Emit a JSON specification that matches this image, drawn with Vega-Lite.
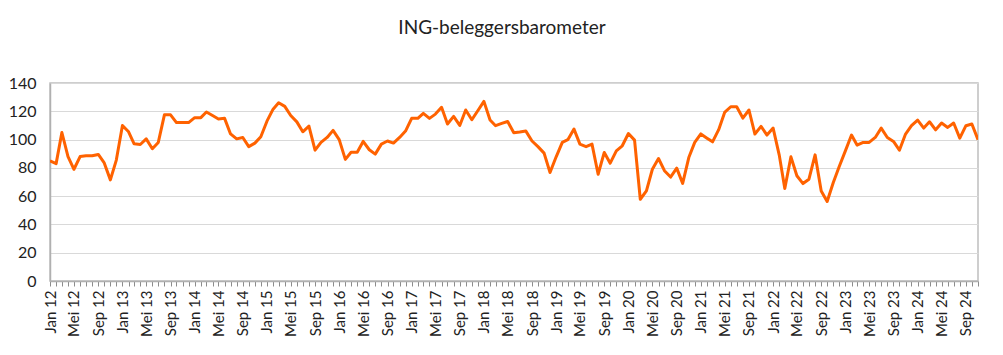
{
  "$schema": "https://vega.github.io/schema/vega-lite/v6.json",
  "autosize": "none",
  "width": 928,
  "height": 198,
  "padding": {"left": 50, "top": 83, "right": 25, "bottom": 74},
  "background": "white",
  "config": {
    "font": "Lato",
    "view": {"stroke": "#bfbfbf", "strokeWidth": 1.5}
  },
  "title": {
    "text": "ING-beleggersbarometer",
    "font": "Lato",
    "fontSize": 19,
    "fontWeight": "normal",
    "color": "#222222",
    "anchor": "middle",
    "frame": "group",
    "dx": -12,
    "baseline": "alphabetic",
    "offset": 22
  },
  "data": {
    "values": [
      {"date": "2012-01-01", "v": 85},
      {"date": "2012-02-01", "v": 83},
      {"date": "2012-03-01", "v": 105},
      {"date": "2012-04-01", "v": 88},
      {"date": "2012-05-01", "v": 79},
      {"date": "2012-06-01", "v": 88},
      {"date": "2012-07-01", "v": 88.5},
      {"date": "2012-08-01", "v": 88.5},
      {"date": "2012-09-01", "v": 89.5},
      {"date": "2012-10-01", "v": 83.5},
      {"date": "2012-11-01", "v": 71.5},
      {"date": "2012-12-01", "v": 85.5},
      {"date": "2013-01-01", "v": 110},
      {"date": "2013-02-01", "v": 105.5},
      {"date": "2013-03-01", "v": 97},
      {"date": "2013-04-01", "v": 96.5},
      {"date": "2013-05-01", "v": 100.5},
      {"date": "2013-06-01", "v": 93.5},
      {"date": "2013-07-01", "v": 98},
      {"date": "2013-08-01", "v": 117.5},
      {"date": "2013-09-01", "v": 117.5},
      {"date": "2013-10-01", "v": 112},
      {"date": "2013-11-01", "v": 112},
      {"date": "2013-12-01", "v": 112},
      {"date": "2014-01-01", "v": 115.5},
      {"date": "2014-02-01", "v": 115.5},
      {"date": "2014-03-01", "v": 119.5},
      {"date": "2014-04-01", "v": 117},
      {"date": "2014-05-01", "v": 114.5},
      {"date": "2014-06-01", "v": 115},
      {"date": "2014-07-01", "v": 104},
      {"date": "2014-08-01", "v": 100.5},
      {"date": "2014-09-01", "v": 101.5},
      {"date": "2014-10-01", "v": 95},
      {"date": "2014-11-01", "v": 97.5},
      {"date": "2014-12-01", "v": 102},
      {"date": "2015-01-01", "v": 113},
      {"date": "2015-02-01", "v": 121.5},
      {"date": "2015-03-01", "v": 126},
      {"date": "2015-04-01", "v": 123.5},
      {"date": "2015-05-01", "v": 117},
      {"date": "2015-06-01", "v": 112.5},
      {"date": "2015-07-01", "v": 105.5},
      {"date": "2015-08-01", "v": 109.5},
      {"date": "2015-09-01", "v": 92.5},
      {"date": "2015-10-01", "v": 98},
      {"date": "2015-11-01", "v": 101.5},
      {"date": "2015-12-01", "v": 106.5},
      {"date": "2016-01-01", "v": 100},
      {"date": "2016-02-01", "v": 86},
      {"date": "2016-03-01", "v": 91},
      {"date": "2016-04-01", "v": 91},
      {"date": "2016-05-01", "v": 98.7},
      {"date": "2016-06-01", "v": 92.8},
      {"date": "2016-07-01", "v": 89.7},
      {"date": "2016-08-01", "v": 96.8},
      {"date": "2016-09-01", "v": 99},
      {"date": "2016-10-01", "v": 97.5},
      {"date": "2016-11-01", "v": 101.5},
      {"date": "2016-12-01", "v": 106},
      {"date": "2017-01-01", "v": 115},
      {"date": "2017-02-01", "v": 115},
      {"date": "2017-03-01", "v": 118.5},
      {"date": "2017-04-01", "v": 115},
      {"date": "2017-05-01", "v": 118},
      {"date": "2017-06-01", "v": 122.8},
      {"date": "2017-07-01", "v": 111},
      {"date": "2017-08-01", "v": 116.4},
      {"date": "2017-09-01", "v": 110},
      {"date": "2017-10-01", "v": 120.9},
      {"date": "2017-11-01", "v": 114},
      {"date": "2017-12-01", "v": 120.4},
      {"date": "2018-01-01", "v": 127},
      {"date": "2018-02-01", "v": 113.8},
      {"date": "2018-03-01", "v": 109.8},
      {"date": "2018-04-01", "v": 111.4},
      {"date": "2018-05-01", "v": 112.8},
      {"date": "2018-06-01", "v": 104.8},
      {"date": "2018-07-01", "v": 105.3},
      {"date": "2018-08-01", "v": 106},
      {"date": "2018-09-01", "v": 99},
      {"date": "2018-10-01", "v": 95},
      {"date": "2018-11-01", "v": 90.4},
      {"date": "2018-12-01", "v": 76.7},
      {"date": "2019-01-01", "v": 87.8},
      {"date": "2019-02-01", "v": 98},
      {"date": "2019-03-01", "v": 99.9},
      {"date": "2019-04-01", "v": 107.4},
      {"date": "2019-05-01", "v": 96.8},
      {"date": "2019-06-01", "v": 95},
      {"date": "2019-07-01", "v": 96.8},
      {"date": "2019-08-01", "v": 75.5},
      {"date": "2019-09-01", "v": 90.9},
      {"date": "2019-10-01", "v": 83.3},
      {"date": "2019-11-01", "v": 92},
      {"date": "2019-12-01", "v": 95.6},
      {"date": "2020-01-01", "v": 104.3},
      {"date": "2020-02-01", "v": 99.6},
      {"date": "2020-03-01", "v": 57.8},
      {"date": "2020-04-01", "v": 63.7},
      {"date": "2020-05-01", "v": 79},
      {"date": "2020-06-01", "v": 86.6},
      {"date": "2020-07-01", "v": 78},
      {"date": "2020-08-01", "v": 73.5},
      {"date": "2020-09-01", "v": 79.8},
      {"date": "2020-10-01", "v": 69},
      {"date": "2020-11-01", "v": 87.3},
      {"date": "2020-12-01", "v": 98},
      {"date": "2021-01-01", "v": 104},
      {"date": "2021-02-01", "v": 101},
      {"date": "2021-03-01", "v": 98.4},
      {"date": "2021-04-01", "v": 107},
      {"date": "2021-05-01", "v": 119.2},
      {"date": "2021-06-01", "v": 123.2},
      {"date": "2021-07-01", "v": 123.2},
      {"date": "2021-08-01", "v": 115.2},
      {"date": "2021-09-01", "v": 120.9},
      {"date": "2021-10-01", "v": 103.9},
      {"date": "2021-11-01", "v": 109.3},
      {"date": "2021-12-01", "v": 103.2},
      {"date": "2022-01-01", "v": 108.1},
      {"date": "2022-02-01", "v": 89},
      {"date": "2022-03-01", "v": 65.4},
      {"date": "2022-04-01", "v": 87.8},
      {"date": "2022-05-01", "v": 74.4},
      {"date": "2022-06-01", "v": 68.9},
      {"date": "2022-07-01", "v": 72},
      {"date": "2022-08-01", "v": 89.2},
      {"date": "2022-09-01", "v": 63.7},
      {"date": "2022-10-01", "v": 56.2},
      {"date": "2022-11-01", "v": 69.6},
      {"date": "2022-12-01", "v": 81},
      {"date": "2023-01-01", "v": 92},
      {"date": "2023-02-01", "v": 103.2},
      {"date": "2023-03-01", "v": 96.1},
      {"date": "2023-04-01", "v": 98},
      {"date": "2023-05-01", "v": 98},
      {"date": "2023-06-01", "v": 101.5},
      {"date": "2023-07-01", "v": 108.1},
      {"date": "2023-08-01", "v": 101.5},
      {"date": "2023-09-01", "v": 98.7},
      {"date": "2023-10-01", "v": 92.5},
      {"date": "2023-11-01", "v": 103.9},
      {"date": "2023-12-01", "v": 109.8},
      {"date": "2024-01-01", "v": 113.8},
      {"date": "2024-02-01", "v": 108.1},
      {"date": "2024-03-01", "v": 112.6},
      {"date": "2024-04-01", "v": 106.9},
      {"date": "2024-05-01", "v": 111.7},
      {"date": "2024-06-01", "v": 108.6},
      {"date": "2024-07-01", "v": 111.7},
      {"date": "2024-08-01", "v": 101},
      {"date": "2024-09-01", "v": 109.8},
      {"date": "2024-10-01", "v": 111},
      {"date": "2024-11-01", "v": 99.9}
    ]
  },
  "mark": {"type": "line", "color": "#FF6200", "strokeWidth": 3, "strokeJoin": "round", "clip": true},
  "encoding": {
    "x": {
      "field": "date",
      "type": "temporal",
      "scale": {"type": "utc", "domain": ["2012-01-01", "2024-11-01"], "nice": false},
      "axis": {
        "title": null,
        "grid": false,
        "domainColor": "#b0b0b0",
        "domainWidth": 1.5,
        "tickColor": "#8c8c8c",
        "tickSize": 5,
        "tickWidth": 1,
        "tickCount": {"interval": "month", "step": 1},
        "labelAngle": 270,
        "labelFont": "Lato",
        "labelFontSize": 15,
        "labelColor": "#222222",
        "labelPadding": 4,
        "labelOverlap": false,
        "labelBound": false,
        "labelFlush": false,
        "labelExpr": "utcmonth(datum.value)==0 ? 'Jan ' + utcFormat(datum.value, '%y') : utcmonth(datum.value)==4 ? 'Mei ' + utcFormat(datum.value, '%y') : utcmonth(datum.value)==8 ? 'Sep ' + utcFormat(datum.value, '%y') : ''"
      }
    },
    "y": {
      "field": "v",
      "type": "quantitative",
      "scale": {"domain": [0, 140], "nice": false},
      "axis": {
        "title": null,
        "values": [0, 20, 40, 60, 80, 100, 120, 140],
        "grid": true,
        "gridColor": "#d9d9d9",
        "gridWidth": 1,
        "domainColor": "#b0b0b0",
        "domainWidth": 1.5,
        "ticks": false,
        "labelFont": "Lato",
        "labelFontSize": 16,
        "labelColor": "#222222",
        "labelPadding": 14
      }
    }
  }
}
